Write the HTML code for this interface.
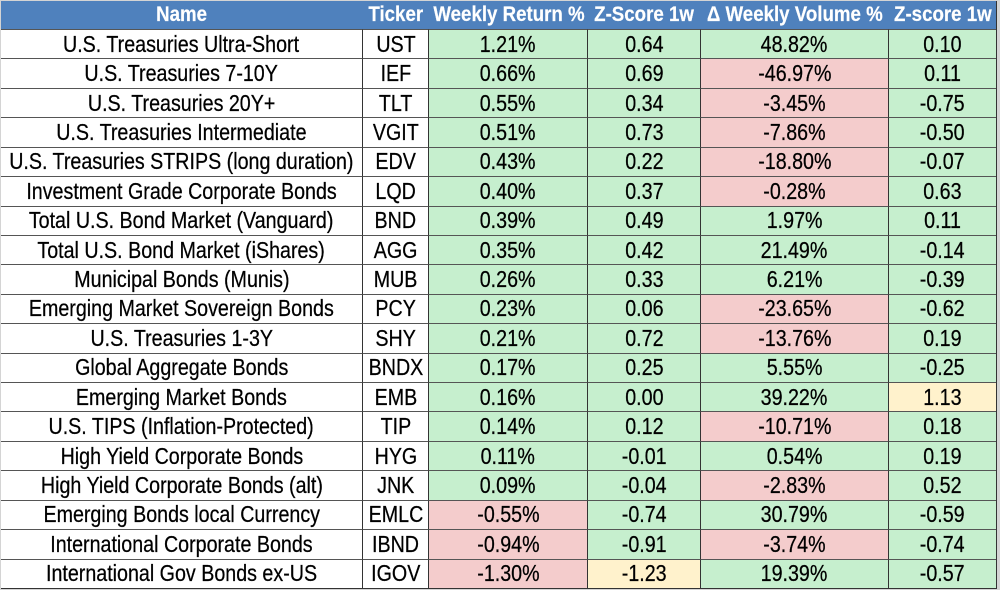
<!DOCTYPE html>
<html><head><meta charset="utf-8"><style>
html,body{margin:0;padding:0;}
body{width:1000px;height:590px;background:#d4d4d4;position:relative;overflow:hidden;font-family:"Liberation Sans",Arial,sans-serif;}
#tbl{position:absolute;left:1px;top:1px;width:995px;height:587px;background:#fff;border-right:1px solid #333;border-bottom:1px solid #333;box-sizing:content-box;}
.row{position:absolute;left:0;width:995px;display:flex;}
.c{box-sizing:border-box;height:100%;display:flex;align-items:center;justify-content:center;white-space:nowrap;border-right:1px solid #333;border-top:1px solid #555;color:#000;font-size:23px;overflow:visible;}
.c span{display:inline-block;transform:scaleX(0.855);transform-origin:center;-webkit-text-stroke:0.25px #000;}
.c:last-child{border-right:none;}
.w1{width:362px}.w2{width:66px}.w3{width:159px}.w4{width:113px}.w5{width:188px}.w6{width:107px}
.hdr{top:0;height:28px;background:#4f81bd;}
.hdr .c{border:none;color:#fff;font-weight:bold;font-size:21px;}
.hdr .c span{transform:scaleX(0.89);-webkit-text-stroke:0.2px #fff;}
.g{background:#c6efce}.r{background:#f4cccc}.y{background:#fff2cc}
</style></head><body>
<div id="tbl">
<div class="row hdr"><div class="c w1"><span>Name</span></div><div class="c w2"><span>Ticker</span></div><div class="c w3"><span>Weekly Return %</span></div><div class="c w4"><span>Z-Score 1w</span></div><div class="c w5"><span>Δ Weekly Volume %</span></div><div class="c w6"><span>Z-score 1w</span></div></div>

<div class="row" style="top:28px;height:29.42px"><div class="c w1"><span>U.S. Treasuries Ultra-Short</span></div><div class="c w2"><span>UST</span></div><div class="c w3 g"><span>1.21%</span></div><div class="c w4 g"><span>0.64</span></div><div class="c w5 g"><span>48.82%</span></div><div class="c w6 g"><span>0.10</span></div></div>
<div class="row" style="top:57.42px;height:29.42px"><div class="c w1"><span>U.S. Treasuries 7-10Y</span></div><div class="c w2"><span>IEF</span></div><div class="c w3 g"><span>0.66%</span></div><div class="c w4 g"><span>0.69</span></div><div class="c w5 r"><span>-46.97%</span></div><div class="c w6 g"><span>0.11</span></div></div>
<div class="row" style="top:86.84px;height:29.42px"><div class="c w1"><span>U.S. Treasuries 20Y+</span></div><div class="c w2"><span>TLT</span></div><div class="c w3 g"><span>0.55%</span></div><div class="c w4 g"><span>0.34</span></div><div class="c w5 r"><span>-3.45%</span></div><div class="c w6 g"><span>-0.75</span></div></div>
<div class="row" style="top:116.26px;height:29.42px"><div class="c w1"><span>U.S. Treasuries Intermediate</span></div><div class="c w2"><span>VGIT</span></div><div class="c w3 g"><span>0.51%</span></div><div class="c w4 g"><span>0.73</span></div><div class="c w5 r"><span>-7.86%</span></div><div class="c w6 g"><span>-0.50</span></div></div>
<div class="row" style="top:145.68px;height:29.42px"><div class="c w1"><span>U.S. Treasuries STRIPS (long duration)</span></div><div class="c w2"><span>EDV</span></div><div class="c w3 g"><span>0.43%</span></div><div class="c w4 g"><span>0.22</span></div><div class="c w5 r"><span>-18.80%</span></div><div class="c w6 g"><span>-0.07</span></div></div>
<div class="row" style="top:175.1px;height:29.42px"><div class="c w1"><span>Investment Grade Corporate Bonds</span></div><div class="c w2"><span>LQD</span></div><div class="c w3 g"><span>0.40%</span></div><div class="c w4 g"><span>0.37</span></div><div class="c w5 r"><span>-0.28%</span></div><div class="c w6 g"><span>0.63</span></div></div>
<div class="row" style="top:204.52px;height:29.42px"><div class="c w1"><span>Total U.S. Bond Market (Vanguard)</span></div><div class="c w2"><span>BND</span></div><div class="c w3 g"><span>0.39%</span></div><div class="c w4 g"><span>0.49</span></div><div class="c w5 g"><span>1.97%</span></div><div class="c w6 g"><span>0.11</span></div></div>
<div class="row" style="top:233.94px;height:29.42px"><div class="c w1"><span>Total U.S. Bond Market (iShares)</span></div><div class="c w2"><span>AGG</span></div><div class="c w3 g"><span>0.35%</span></div><div class="c w4 g"><span>0.42</span></div><div class="c w5 g"><span>21.49%</span></div><div class="c w6 g"><span>-0.14</span></div></div>
<div class="row" style="top:263.36px;height:29.42px"><div class="c w1"><span>Municipal Bonds (Munis)</span></div><div class="c w2"><span>MUB</span></div><div class="c w3 g"><span>0.26%</span></div><div class="c w4 g"><span>0.33</span></div><div class="c w5 g"><span>6.21%</span></div><div class="c w6 g"><span>-0.39</span></div></div>
<div class="row" style="top:292.78px;height:29.42px"><div class="c w1"><span>Emerging Market Sovereign Bonds</span></div><div class="c w2"><span>PCY</span></div><div class="c w3 g"><span>0.23%</span></div><div class="c w4 g"><span>0.06</span></div><div class="c w5 r"><span>-23.65%</span></div><div class="c w6 g"><span>-0.62</span></div></div>
<div class="row" style="top:322.2px;height:29.42px"><div class="c w1"><span>U.S. Treasuries 1-3Y</span></div><div class="c w2"><span>SHY</span></div><div class="c w3 g"><span>0.21%</span></div><div class="c w4 g"><span>0.72</span></div><div class="c w5 r"><span>-13.76%</span></div><div class="c w6 g"><span>0.19</span></div></div>
<div class="row" style="top:351.62px;height:29.42px"><div class="c w1"><span>Global Aggregate Bonds</span></div><div class="c w2"><span>BNDX</span></div><div class="c w3 g"><span>0.17%</span></div><div class="c w4 g"><span>0.25</span></div><div class="c w5 g"><span>5.55%</span></div><div class="c w6 g"><span>-0.25</span></div></div>
<div class="row" style="top:381.04px;height:29.42px"><div class="c w1"><span>Emerging Market Bonds</span></div><div class="c w2"><span>EMB</span></div><div class="c w3 g"><span>0.16%</span></div><div class="c w4 g"><span>0.00</span></div><div class="c w5 g"><span>39.22%</span></div><div class="c w6 y"><span>1.13</span></div></div>
<div class="row" style="top:410.46px;height:29.42px"><div class="c w1"><span>U.S. TIPS (Inflation-Protected)</span></div><div class="c w2"><span>TIP</span></div><div class="c w3 g"><span>0.14%</span></div><div class="c w4 g"><span>0.12</span></div><div class="c w5 r"><span>-10.71%</span></div><div class="c w6 g"><span>0.18</span></div></div>
<div class="row" style="top:439.88px;height:29.42px"><div class="c w1"><span>High Yield Corporate Bonds</span></div><div class="c w2"><span>HYG</span></div><div class="c w3 g"><span>0.11%</span></div><div class="c w4 g"><span>-0.01</span></div><div class="c w5 g"><span>0.54%</span></div><div class="c w6 g"><span>0.19</span></div></div>
<div class="row" style="top:469.3px;height:29.42px"><div class="c w1"><span>High Yield Corporate Bonds (alt)</span></div><div class="c w2"><span>JNK</span></div><div class="c w3 g"><span>0.09%</span></div><div class="c w4 g"><span>-0.04</span></div><div class="c w5 r"><span>-2.83%</span></div><div class="c w6 g"><span>0.52</span></div></div>
<div class="row" style="top:498.72px;height:29.42px"><div class="c w1"><span>Emerging Bonds local Currency</span></div><div class="c w2"><span>EMLC</span></div><div class="c w3 r"><span>-0.55%</span></div><div class="c w4 g"><span>-0.74</span></div><div class="c w5 g"><span>30.79%</span></div><div class="c w6 g"><span>-0.59</span></div></div>
<div class="row" style="top:528.14px;height:29.42px"><div class="c w1"><span>International Corporate Bonds</span></div><div class="c w2"><span>IBND</span></div><div class="c w3 r"><span>-0.94%</span></div><div class="c w4 g"><span>-0.91</span></div><div class="c w5 r"><span>-3.74%</span></div><div class="c w6 g"><span>-0.74</span></div></div>
<div class="row" style="top:557.56px;height:29.44px"><div class="c w1"><span>International Gov Bonds ex-US</span></div><div class="c w2"><span>IGOV</span></div><div class="c w3 r"><span>-1.30%</span></div><div class="c w4 y"><span>-1.23</span></div><div class="c w5 g"><span>19.39%</span></div><div class="c w6 g"><span>-0.57</span></div></div>
</div>
</body></html>
